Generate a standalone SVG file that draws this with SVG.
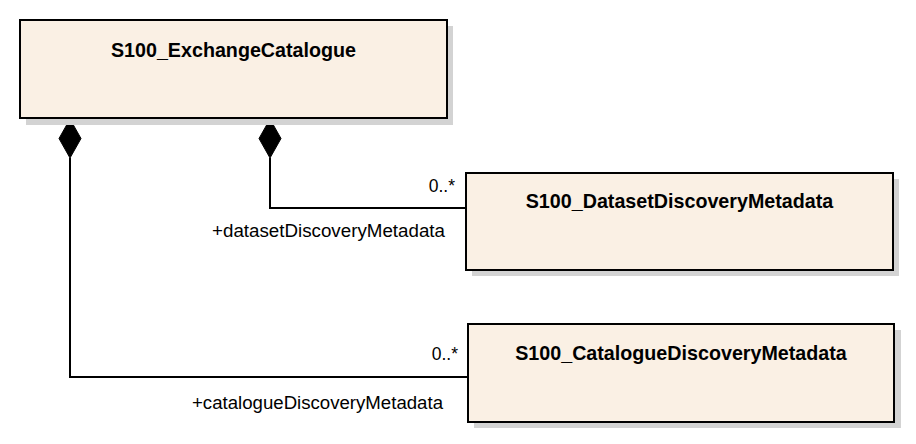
<svg xmlns="http://www.w3.org/2000/svg" width="916" height="444" viewBox="0 0 916 444">
<style>
.shadow{fill:#d3d3d3}
.box{fill:#faf0e4;stroke:#000;stroke-width:2}
.title{font-family:"Liberation Sans",Arial,sans-serif;font-weight:bold;font-size:19.7px;fill:#000;text-anchor:middle}
.lbl{font-family:"Liberation Sans",Arial,sans-serif;font-size:17.5px;fill:#000;text-anchor:end}
.conn{fill:none;stroke:#000;stroke-width:2}
.dia{fill:#000;stroke:#000;stroke-width:1}
</style>
<rect width="916" height="444" fill="#fff"/>
<g id="connectors">
<path class="conn" d="M270,158 V208 H466"/>
<path class="conn" d="M70,158 V377 H468"/>
<polygon class="dia" points="270,119 281,138.5 270,158 259,138.5"/>
<polygon class="dia" points="70,119 81,138.5 70,158 59,138.5"/>
<text class="lbl" x="455" y="192">0..*</text>
<text class="lbl" x="445" y="237" textLength="233" lengthAdjust="spacingAndGlyphs">+datasetDiscoveryMetadata</text>
<text class="lbl" x="458" y="360">0..*</text>
<text class="lbl" x="443" y="409" textLength="251" lengthAdjust="spacingAndGlyphs">+catalogueDiscoveryMetadata</text>
</g>
<g id="S100_ExchangeCatalogue">
<rect class="shadow" x="26" y="26" width="427" height="99"/>
<rect class="box" x="20" y="20" width="427" height="98"/>
<text class="title" x="233.5" y="57">S100_ExchangeCatalogue</text>
</g>
<g id="S100_DatasetDiscoveryMetadata">
<rect class="shadow" x="472" y="179" width="427" height="97"/>
<rect class="box" x="466" y="173" width="427" height="97"/>
<text class="title" x="679.5" y="208">S100_DatasetDiscoveryMetadata</text>
</g>
<g id="S100_CatalogueDiscoveryMetadata">
<rect class="shadow" x="474" y="330" width="427" height="98"/>
<rect class="box" x="468" y="324" width="426" height="98"/>
<text class="title" x="681" y="360">S100_CatalogueDiscoveryMetadata</text>
</g>
</svg>
